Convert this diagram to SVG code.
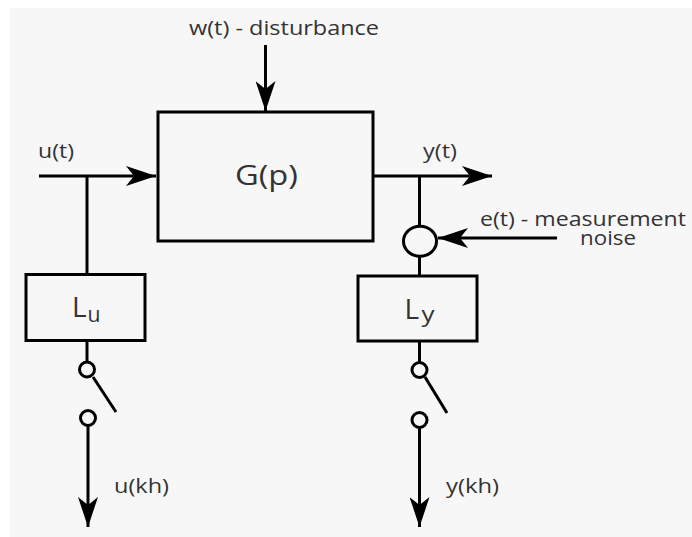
<svg xmlns="http://www.w3.org/2000/svg" width="692" height="537" viewBox="0 0 692 537">
<defs>
<marker id="ah" viewBox="0 0 30 20" refX="30" refY="10" markerWidth="30" markerHeight="20" markerUnits="userSpaceOnUse" orient="auto">
<path d="M30,10 L0,0 L8,10 L0,20 Z" fill="#000"/>
</marker>
<style>
.ln{stroke:#000;stroke-width:3;fill:none}
.bx{stroke:#000;stroke-width:3;fill:none}
.t{font-family:"Open Sans","Noto Sans",sans-serif;fill:#333;font-size:20px}
.big{font-family:"Open Sans","Noto Sans",sans-serif;fill:#333;font-size:28px}
.sub{font-family:"Open Sans","Noto Sans",sans-serif;fill:#333;font-size:22px}
</style>
</defs>
<rect x="0" y="0" width="692" height="537" fill="#ffffff"/>
<rect x="10" y="8" width="682" height="529" fill="#f8f7f8"/>

<g id="connectors">
<line class="ln" x1="265.5" y1="45" x2="265.5" y2="111" marker-end="url(#ah)"/>
<line class="ln" x1="39" y1="176" x2="156" y2="176" marker-end="url(#ah)"/>
<line class="ln" x1="87" y1="176" x2="87" y2="274"/>
<line class="ln" x1="373" y1="176" x2="492" y2="176" marker-end="url(#ah)"/>
<line class="ln" x1="419.5" y1="176" x2="419.5" y2="226"/>
<line class="ln" x1="557" y1="238" x2="438" y2="238" marker-end="url(#ah)"/>
<line class="ln" x1="419.5" y1="256" x2="419.5" y2="276"/>
<line class="ln" x1="87" y1="341" x2="87" y2="362"/>
<line class="ln" x1="93" y1="377" x2="116" y2="412"/>
<line class="ln" x1="88" y1="425" x2="88" y2="527" marker-end="url(#ah)"/>
<line class="ln" x1="419.5" y1="341" x2="419.5" y2="363"/>
<line class="ln" x1="425" y1="377" x2="447" y2="413"/>
<line class="ln" x1="419.5" y1="427" x2="419.5" y2="527" marker-end="url(#ah)"/>
</g>

<g id="G">
<rect class="bx" x="158" y="112" width="215" height="129"/>
<text class="big" x="235" y="185" textLength="63" lengthAdjust="spacingAndGlyphs">G(p)</text>
</g>

<g id="sum">
<ellipse class="bx" cx="420" cy="241.3" rx="16.5" ry="15" fill="none"/>
</g>

<g id="Lu">
<rect class="bx" x="26" y="274.5" width="119" height="66"/>
<text class="big" x="72" y="316.7">L</text>
<text class="sub" x="87.5" y="322" textLength="13" lengthAdjust="spacingAndGlyphs">u</text>
</g>

<g id="Ly">
<rect class="bx" x="358" y="276" width="119" height="65"/>
<text class="big" x="404.5" y="319.3">L</text>
<text class="sub" x="421.5" y="322" textLength="13" lengthAdjust="spacingAndGlyphs">y</text>
</g>

<g id="switch-u">
<circle class="bx" cx="87" cy="369.5" r="7.5"/>
<circle class="bx" cx="88" cy="418" r="7.5"/>
</g>

<g id="switch-y">
<circle class="bx" cx="419.5" cy="370" r="7.5"/>
<circle class="bx" cx="419.5" cy="420" r="7.5"/>
</g>

<g id="labels">
<text class="t" x="189" y="35" textLength="190" lengthAdjust="spacingAndGlyphs">w(t) - disturbance</text>
<text class="t" x="38" y="158" textLength="36" lengthAdjust="spacingAndGlyphs">u(t)</text>
<text class="t" x="423" y="158" textLength="34" lengthAdjust="spacingAndGlyphs">y(t)</text>
<text class="t" x="480" y="226" textLength="206" lengthAdjust="spacingAndGlyphs">e(t) - measurement</text>
<text class="t" x="580" y="245" textLength="56" lengthAdjust="spacingAndGlyphs">noise</text>
<text class="t" x="114" y="493" textLength="55" lengthAdjust="spacingAndGlyphs">u(kh)</text>
<text class="t" x="446" y="493" textLength="53" lengthAdjust="spacingAndGlyphs">y(kh)</text>
</g>
</svg>
